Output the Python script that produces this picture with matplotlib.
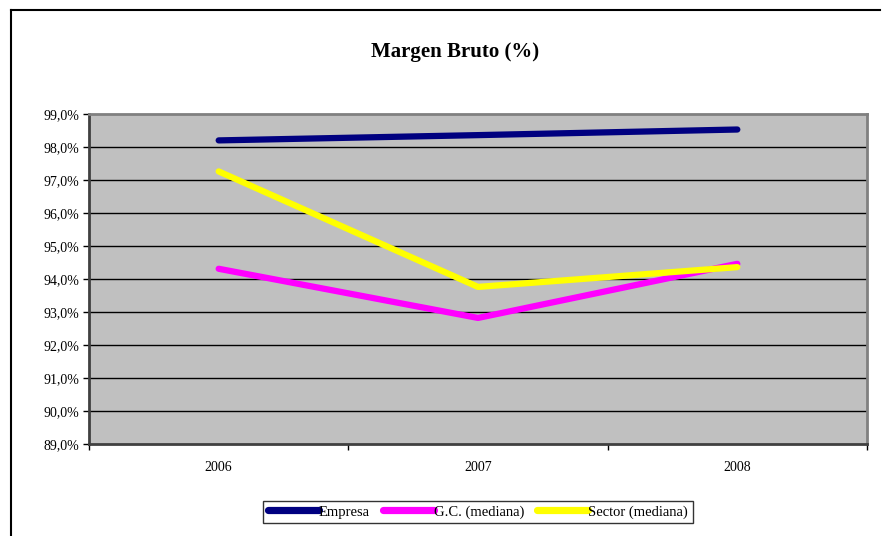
import matplotlib.pyplot as plt
from matplotlib.lines import Line2D
import numpy as np

years = ['2006', '2007', '2008']
empresa = [98.20, 98.36, 98.53]
gc_mediana = [94.31, 92.82, 94.46]
sector_mediana = [97.26, 93.76, 94.36]

plt.rcParams['font.family'] = ['Liberation Serif', 'DejaVu Serif']

fig = plt.figure(figsize=(8.83, 5.36), dpi=100)
ax = fig.add_axes([89 / 883, 1 - 444 / 536, (867 - 89) / 883, (444 - 114) / 536])
ax.set_facecolor('#c0c0c0')

x = np.arange(len(years))
lw = 4.5
ax.plot(x, empresa, color='#000080', linewidth=lw, solid_capstyle='round', label='Empresa', zorder=3)
ax.plot(x, gc_mediana, color='#ff00ff', linewidth=lw, solid_capstyle='round', label='G.C. (mediana)', zorder=3)
ax.plot(x, sector_mediana, color='#ffff00', linewidth=lw, solid_capstyle='round', label='Sector (mediana)', zorder=4)

ax.set_xlim(-0.5, len(years) - 0.5)
ax.set_ylim(89, 99)
yt = np.arange(89, 100, 1)
ax.set_yticks(yt)
ax.set_yticklabels([f'{v:.1f}%'.replace('.', ',') for v in yt], fontsize=10)
for v in yt[1:-1]:
    ax.axhline(v, color='black', linewidth=1, zorder=1)

ax.set_xticks(x)
ax.set_xticklabels(years, fontsize=10)
ax.tick_params(axis='x', which='major', length=0, pad=12)
ax.set_xticks(np.arange(-0.5, len(years), 1), minor=True)
ax.tick_params(axis='x', which='minor', length=4, width=1, direction='out')
ax.tick_params(axis='y', length=4, width=1, direction='out', pad=3)

for side in ['top', 'right']:
    ax.spines[side].set_color('#808080')
    ax.spines[side].set_linewidth(2)
for side in ['left', 'bottom']:
    ax.spines[side].set_color('#404040')
    ax.spines[side].set_linewidth(2)

fig.text(455 / 883, 1 - 52 / 536, 'Margen Bruto (%)', ha='center', va='center',
         fontsize=15, fontweight='bold')

# outer frame (top and left only visible)
fig.add_artist(Line2D([11 / 883, 880 / 883], [1 - 10 / 536, 1 - 10 / 536], color='black', linewidth=1.5))
fig.add_artist(Line2D([11 / 883, 11 / 883], [1 - 10 / 536, 0], color='black', linewidth=1.5))

handles = [Line2D([], [], color=h.get_color(), linewidth=5.2, solid_capstyle='round')
           for h in ax.get_lines()[:3]]
labels = ['Empresa', 'G.C. (mediana)', 'Sector (mediana)']
leg = fig.legend(handles, labels, loc='center', bbox_to_anchor=(478 / 883, 1 - 512 / 536),
                 ncol=3, fontsize=10.5, frameon=True, fancybox=False, handlelength=3.5,
                 handletextpad=0.0, columnspacing=0.9, borderpad=0.3)
leg.get_frame().set_edgecolor('black')
leg.get_frame().set_linewidth(1)

fig.savefig('out.png', dpi=100)
